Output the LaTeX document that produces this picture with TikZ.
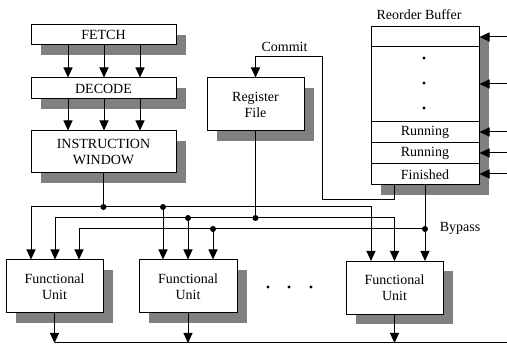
\documentclass[tikz,border=0pt]{standalone}
\usepackage{fontspec}
\setmainfont{Liberation Serif}
\usetikzlibrary{arrows.meta,shadows}
\begin{document}
\begin{tikzpicture}[x=1pt,y=-1pt,
  font=\fontsize{14}{16}\selectfont,
  wire/.style={line width=1pt},
  arr/.style={wire,-{Triangle[width=9pt,length=10pt]}},
  block/.style={draw,line width=1pt,fill=white,align=center,inner sep=0pt,
    general shadow={fill=black!50,shadow xshift=10pt,shadow yshift=-10pt}},
  slot/.style={draw,line width=1pt,fill=white,inner sep=0pt,minimum width=108pt},
  junction/.style={circle,fill,inner sep=0pt,minimum size=6pt},
  smalldot/.style={circle,fill,inner sep=0pt,minimum size=3.2pt}]
\useasboundingbox (0,0) rectangle (507,347);

% front end
\node[block,minimum width=145pt,minimum height=20pt] (fetch) at (103.5,35) {FETCH};
\node[block,minimum width=145pt,minimum height=21pt] (decode) at (103.5,88.5) {DECODE};
\node[block,minimum width=145pt,minimum height=42pt] (iw) at (103.5,152) {INSTRUCTION\\WINDOW};
\foreach \x in {68,104,140} {
  \draw[arr] (\x,0 |- fetch.south) -- (\x,0 |- decode.north);
  \draw[arr] (\x,0 |- decode.south) -- (\x,0 |- iw.north);
}

% register file
\node[block,minimum width=97pt,minimum height=53pt] (rf) at (255.5,104.5) {Register\\File};
\node (commitlbl) at (284.5,47) {Commit};

% reorder buffer
\node (roblbl) at (419,15) {Reorder Buffer};
\node[block,minimum width=108pt,minimum height=158pt] (rob) at (425,106) {};
\node[slot,minimum height=20pt] (slot0) at (425,37) {};
\node[slot,minimum height=21pt] (run1) at (425,132.5) {Running};
\node[slot,minimum height=21pt] (run2) at (425,153.5) {Running};
\node[slot,minimum height=21pt] (fin) at (425,174.5) {Finished};
\node[smalldot] (d1) at (424,58) {};
\node[smalldot] (d2) at (424,83) {};
\node[smalldot] (d3) at (424,108) {};
\foreach \y in {37,84,132,153,174} {
  \coordinate (rin\y) at (507,\y);
  \draw[arr] (rin\y) -- (rin\y -| rob.east);
}

% functional units
\node[block,minimum width=97pt,minimum height=53pt] (fu1) at (54.5,286.5) {Functional\\Unit};
\node[block,minimum width=98pt,minimum height=53pt] (fu2) at (188,286.5) {Functional\\Unit};
\node[block,minimum width=97pt,minimum height=53pt] (fu3) at (394.5,288) {Functional\\Unit};
\node[smalldot] (e1) at (268,287) {};
\node[smalldot] (e2) at (289,287) {};
\node[smalldot] (e3) at (311,287) {};

% operand buses
\node[junction] (ja) at (103.5,207) {};
\node[junction] (ja2) at (163,207) {};
\node[junction] (jb) at (255.5,218) {};
\node[junction] (jb2) at (188,218) {};
\node[junction] (jc) at (425,229) {};
\node[junction] (jc2) at (213,229) {};

\draw[wire] (iw.south) -- (ja.center);
\draw[arr] (ja.center) -| (31,0 |- fu1.north);
\draw[arr] (ja.center) -| (371,0 |- fu3.north);
\draw[arr] (ja2.center) -- (ja2.center |- fu2.north);

\draw[wire] (rf.south) -- (jb.center);
\draw[arr] (jb.center) -| (55,0 |- fu1.north);
\draw[arr] (jb.center) -| (fu3.north);
\draw[arr] (jb2.center) -- (jb2.center |- fu2.north);

\draw[arr] (rob.south) -- (rob.south |- fu3.north);
\draw[arr] (jc.center) -| (79,0 |- fu1.north);
\draw[arr] (jc2.center) -- (jc2.center |- fu2.north);
\node (bypasslbl) at (460,228) {Bypass};

% commit path
\draw[arr] (394,0 |- rob.south) -- (394,200) -| (322,57) -| (rf.north);

% result bus
\coordinate (busstart) at (54.5,343);
\coordinate (busend) at (507,343);
\draw[wire] (busstart) -- (busend);
\draw[arr] (fu1.south) -- (fu1.south |- busend);
\draw[arr] (fu2.south) -- (fu2.south |- busend);
\draw[arr] (fu3.south) -- (fu3.south |- busend);
\end{tikzpicture}
\end{document}
